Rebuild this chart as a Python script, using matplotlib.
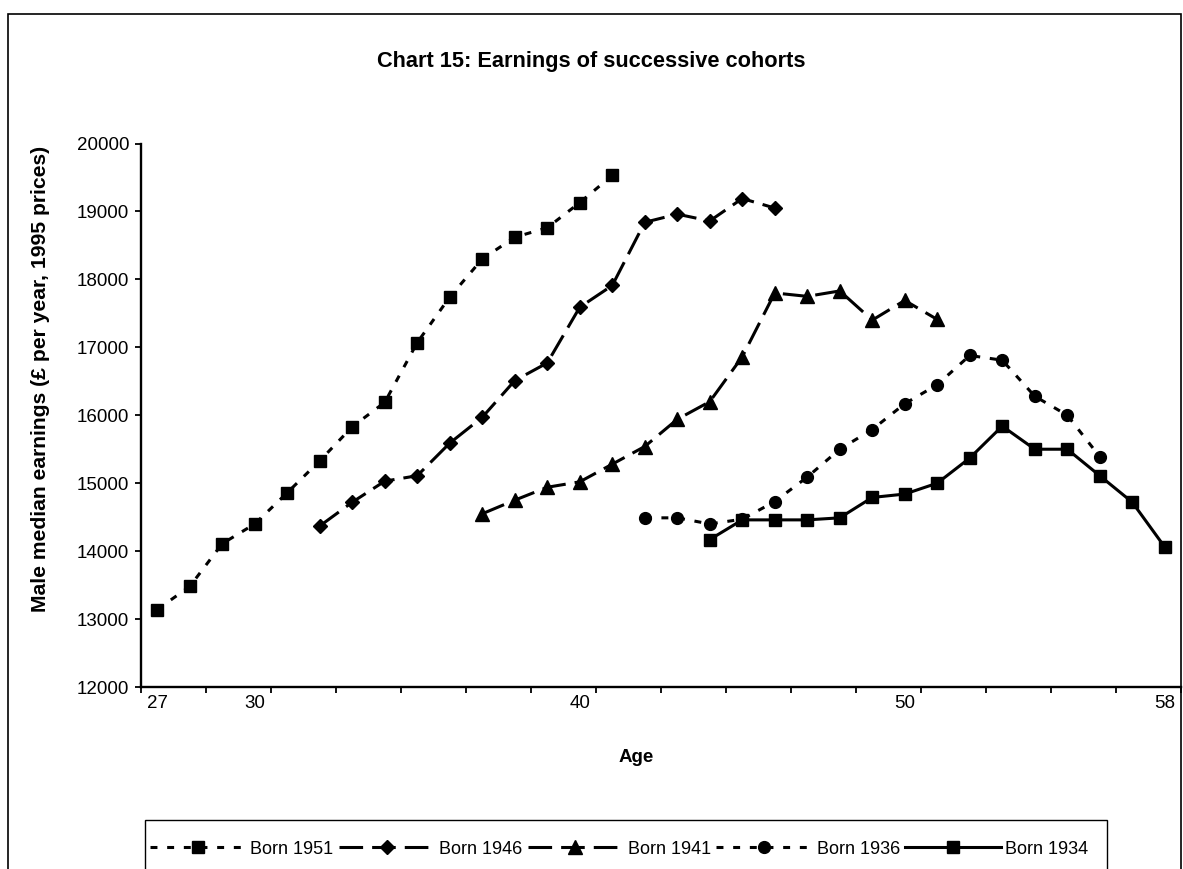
import numpy as np
import matplotlib
matplotlib.use("Agg")
import matplotlib.pyplot as plt
from matplotlib.patches import Rectangle

plt.rcParams['font.family'] = ['Liberation Sans', 'DejaVu Sans']
plt.rcParams['lines.scale_dashes'] = False

# Median male earnings (GBP per year, 1995 prices) by age for each birth cohort
ages_1951 = list(range(27, 42))
earn_1951 = [13140, 13480, 14110, 14400, 14860, 15330, 15830, 16190, 17070,
             17740, 18300, 18620, 18760, 19130, 19530]

ages_1946 = list(range(32, 47))
earn_1946 = [14370, 14720, 15030, 15110, 15590, 15970, 16510, 16770, 17590,
             17910, 18840, 18960, 18860, 19190, 19050]

ages_1941 = list(range(37, 52))
earn_1941 = [14550, 14750, 14940, 15020, 15280, 15540, 15940, 16200, 16860,
             17800, 17750, 17830, 17400, 17690, 17410]

ages_1936 = list(range(42, 57))
earn_1936 = [14490, 14490, 14400, 14470, 14730, 15090, 15500, 15790, 16170,
             16450, 16880, 16810, 16280, 16000, 15390]

ages_1934 = list(range(44, 59))
earn_1934 = [14170, 14460, 14460, 14460, 14490, 14790, 14840, 15000, 15370,
             15840, 15500, 15500, 15110, 14720, 14060]

series_labels = ["Born 1951", "Born 1946", "Born 1941", "Born 1936", "Born 1934"]
age_tick_labels = [27, 30, 40, 50, 58]
earn_ticks = list(range(12000, 20001, 1000))

W, H = 1183, 869
fig = plt.figure(figsize=(W / 100, H / 100), dpi=100)
fig.patch.set_facecolor("white")

ax = fig.add_axes([141 / W, 1 - 687 / H, (1181 - 141) / W, (687 - 143.5) / H])

short_dash = (0, (5.0, 7.0))
long_dash = (0, (17.0, 6.5))
lw = 2.2

styles = [
    dict(ls=short_dash, marker="s", ms=8.7),
    dict(ls=long_dash, marker="D", ms=7.5),
    dict(ls=long_dash, marker="^", ms=9.5),
    dict(ls=short_dash, marker="o", ms=8.5),
    dict(ls="-", marker="s", ms=8.7),
]
data = [(ages_1951, earn_1951), (ages_1946, earn_1946), (ages_1941, earn_1941),
        (ages_1936, earn_1936), (ages_1934, earn_1934)]

handles = []
for (x, y), st, lab in zip(data, styles, series_labels):
    h, = ax.plot(x, y, color="black", lw=lw, linestyle=st["ls"],
                 marker=st["marker"], ms=st["ms"], mfc="black", mec="black",
                 label=lab, clip_on=False)
    handles.append(h)

ax.set_xlim(26.5, 58.5)
ax.set_ylim(12000, 20000)

# category boundaries every two years carry the tick marks
ax.set_xticks(np.arange(26.5, 58.6, 2))
ax.set_xticklabels([])
ax.set_xticks(age_tick_labels, minor=True)
ax.set_xticklabels([str(a) for a in age_tick_labels], minor=True)
ax.tick_params(axis="x", which="major", direction="out", length=4.5, width=1.3)
ax.tick_params(axis="x", which="minor", length=0, pad=5.5, labelsize=13.5)

ax.set_yticks(earn_ticks)
ax.set_yticklabels([str(v) for v in earn_ticks])
ax.tick_params(axis="y", direction="out", length=4.5, width=1.3, pad=4,
               labelsize=13.5)

for side in ("top", "right"):
    ax.spines[side].set_visible(False)
for side in ("left", "bottom"):
    ax.spines[side].set_linewidth(1.7)

fig.text(0.5, 1 - 61 / H, "Chart 15: Earnings of successive cohorts",
         ha="center", va="center", fontsize=15.7, fontweight="bold")
fig.text(41 / W, 1 - 379 / H, "Male median earnings (£ per year, 1995 prices)",
         rotation=90, ha="center", va="center", fontsize=15.2, fontweight="bold")
fig.text(636 / W, 1 - 757 / H, "Age", ha="center", va="center",
         fontsize=13.5, fontweight="bold")

# chart area border
fig.add_artist(Rectangle((8 / W, -0.2), (1181 - 8) / W, 1.2 - 14 / H,
                         transform=fig.transFigure, fill=False,
                         ec="black", lw=1.2))

# legend entries in one row, inside a plain box that runs off the bottom edge
leg = fig.legend(handles=handles, labels=series_labels, loc="center left",
                 bbox_to_anchor=(150 / W, 1 - 849 / H), ncol=5,
                 frameon=False, fontsize=13, handlelength=5.3,
                 handletextpad=0.25, columnspacing=0.3, borderpad=0,
                 borderaxespad=0, numpoints=1)
fig.add_artist(Rectangle((145 / W, -0.1), (1107 - 145) / W, 0.1 + 1 - 820 / H,
                         transform=fig.transFigure, fill=False,
                         ec="black", lw=1.0))

fig.savefig("out.png", dpi=100)
